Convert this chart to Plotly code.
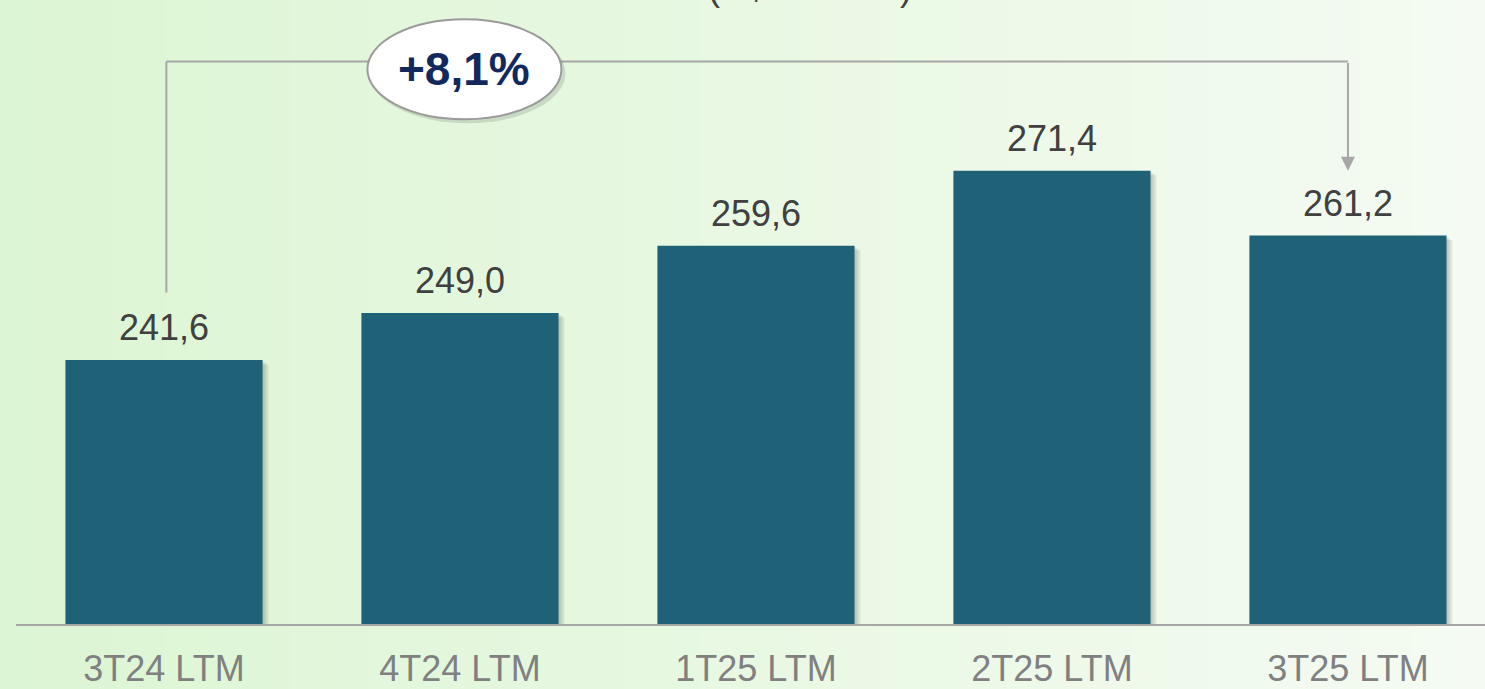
import plotly.graph_objects as go

categories = ["3T24 LTM", "4T24 LTM", "1T25 LTM", "2T25 LTM", "3T25 LTM"]
values = [241.6, 249.0, 259.6, 271.4, 261.2]
value_labels = ["241,6", "249,0", "259,6", "271,4", "261,2"]
growth_label = "+8,1%"
subtitle = "(R$ milhões)"

BAR = "#1f6278"
GRAY_LINE = "#a6a6a6"
FONT = "Liberation Sans, Arial, sans-serif"

xs = list(range(len(categories)))
bar_w = 0.666

fig = go.Figure()

# soft shadows
for px in [2, 4, 6]:
    fig.add_trace(go.Bar(
        x=xs, y=[v - 0.12 * px - 199 for v in values],
        width=bar_w, offset=-bar_w / 2 + px / 296.0,
        marker=dict(color="rgba(0,0,0,0.07)", line=dict(width=0)),
        base=199, hoverinfo="skip", showlegend=False))

fig.add_trace(go.Bar(
    x=xs, y=[v - 200 for v in values], base=200,
    width=bar_w, offset=-bar_w / 2,
    marker=dict(color=BAR, line=dict(width=0)),
    hoverinfo="skip", showlegend=False))

annotations = []
for x, v, lab in zip(xs, values, value_labels):
    annotations.append(dict(
        x=x, y=v, xref="x", yref="y", text=lab, showarrow=False,
        yanchor="bottom", yshift=10,
        font=dict(family=FONT, size=36, color="#404040")))

# growth bubble text
bubble_x = 1.015
line_y = 288.6
bubble_y = 287.4
annotations.append(dict(
    x=bubble_x, y=bubble_y, xref="x", yref="y", text="<b>" + growth_label + "</b>",
    showarrow=False, font=dict(family=FONT, size=46, color="#13295e")))

# arrow down to last bar
annotations.append(dict(
    x=4, y=271.4, xref="x", yref="y", ax=4, ay=line_y, axref="x", ayref="y",
    text="", showarrow=True, arrowhead=2, arrowsize=1.4, arrowwidth=2,
    arrowcolor=GRAY_LINE))

# cut-off subtitle
annotations.append(dict(
    x=(810 - 16) / 296.0 - 0.5, y=1, xref="x", yref="paper", text=subtitle,
    showarrow=False, xanchor="center", yanchor="bottom", yshift=-10,
    font=dict(family=FONT, size=36, color="#404040")))

shapes = []
# background gradient strips
c0 = (220, 245, 211)
c1 = (245, 251, 243)
N = 60
for i in range(N):
    t = i / (N - 1)
    col = tuple(int(round(c0[k] + (c1[k] - c0[k]) * t)) for k in range(3))
    shapes.append(dict(
        type="rect", xref="paper", yref="paper",
        x0=-0.02 + i * 1.04 / N, x1=-0.02 + (i + 1) * 1.04 / N + 0.002,
        y0=-0.2, y1=1.1, line=dict(width=0),
        fillcolor="rgb(%d,%d,%d)" % col, layer="below"))

# connector lines
shapes.append(dict(type="line", xref="x", yref="y", x0=0.008, x1=0.008, y0=252.2, y1=line_y,
                   line=dict(color=GRAY_LINE, width=2)))
shapes.append(dict(type="line", xref="x", yref="y", x0=0.008, x1=4, y0=line_y, y1=line_y,
                   line=dict(color=GRAY_LINE, width=2)))
# bubble shadow
shapes.append(dict(type="circle", xref="x", yref="y",
                   xsizemode="pixel", ysizemode="pixel",
                   xanchor=bubble_x, yanchor=bubble_y,
                   x0=-95, x1=101, y0=-54, y1=46,
                   fillcolor="rgba(0,0,0,0.12)", line=dict(width=0)))
# bubble
shapes.append(dict(type="circle", xref="x", yref="y",
                   xsizemode="pixel", ysizemode="pixel",
                   xanchor=bubble_x, yanchor=bubble_y,
                   x0=-97, x1=97, y0=-50, y1=50,
                   fillcolor="white", line=dict(color="#9a9a9a", width=2)))

fig.update_layout(
    width=1485, height=689,
    margin=dict(l=16, r=0, t=0, b=60),
    barmode="overlay",
    paper_bgcolor="rgb(232,248,226)",
    plot_bgcolor="rgba(0,0,0,0)",
    showlegend=False,
    annotations=annotations,
    shapes=shapes,
    xaxis=dict(
        range=[-0.5, 4.463], tickmode="array", tickvals=xs, ticktext=categories,
        showline=True, linecolor=GRAY_LINE, linewidth=2, showgrid=False,
        zeroline=False, ticks="", fixedrange=True, ticklabelstandoff=12,
        tickfont=dict(family=FONT, size=36, color="#808080")),
    yaxis=dict(range=[200, 298.3], visible=False, showgrid=False, zeroline=False,
               fixedrange=True),
)

fig.write_html("out.html", config={"displayModeBar": False},
               post_script="document.body.style.margin='0px';")
